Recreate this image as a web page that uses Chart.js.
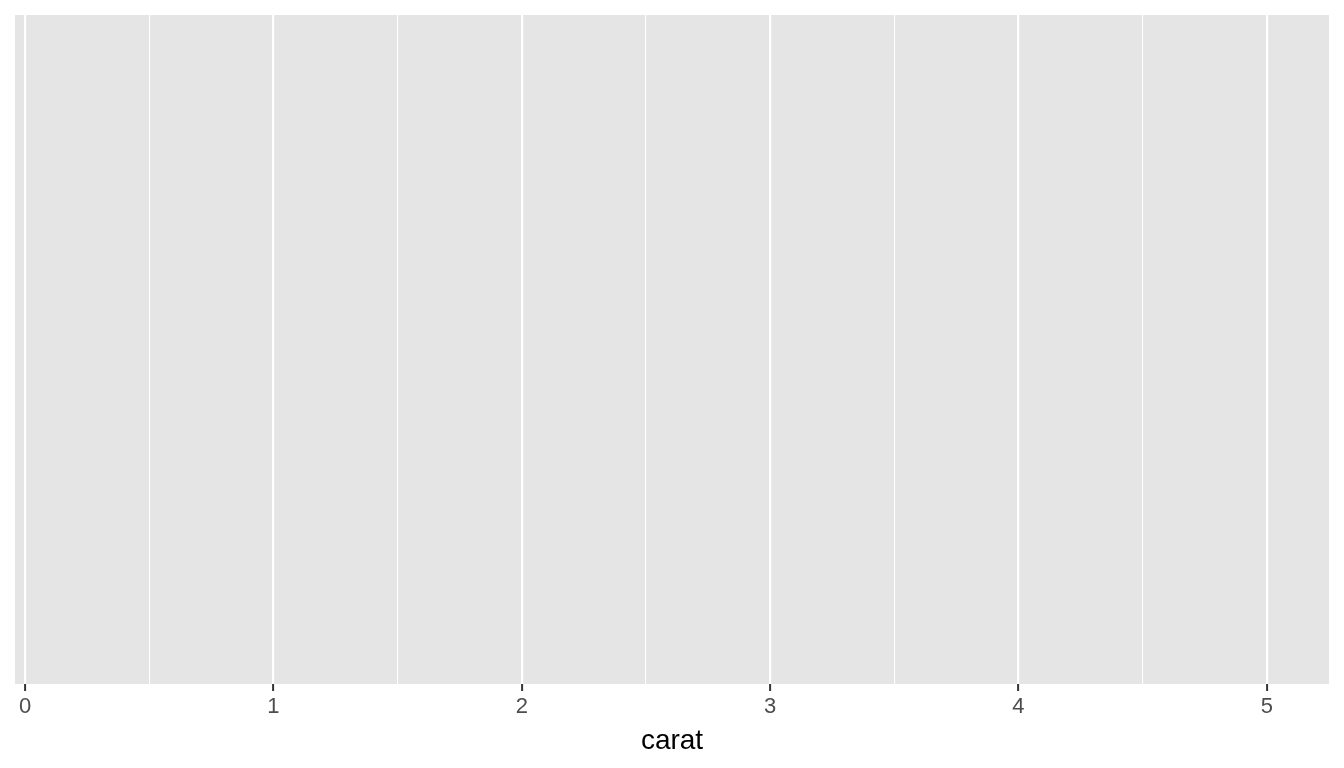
<!DOCTYPE html>
<html>
<head>
<meta charset="utf-8">
<script src="https://cdn.jsdelivr.net/npm/chart.js@4"></script>
<style>
  html, body { margin: 0; padding: 0; background: #fff; }
  #wrap { width: 1344px; height: 768px; }
</style>
</head>
<body>
<div id="wrap"><canvas id="chart" width="1344" height="768"></canvas></div>
<script>
// empty ggplot panel: only the carat axis is drawn
const xLimits = [-0.0405, 5.2505];
const xBreaks = [0, 1, 2, 3, 4, 5];
const xMinorBreaks = [0.5, 1.5, 2.5, 3.5, 4.5];
const points = [];

const allBreaks = xBreaks.concat(xMinorBreaks).sort((a, b) => a - b);
const isMajor = v => xBreaks.includes(v);

const panelBg = {
  id: 'panelBg',
  beforeDraw(chart) {
    const a = chart.chartArea;
    const ctx = chart.ctx;
    ctx.save();
    ctx.fillStyle = '#E5E5E5';
    ctx.fillRect(a.left, a.top, a.right - a.left, a.bottom - a.top);
    ctx.restore();
  }
};

const ctx = document.getElementById('chart').getContext('2d');
new Chart(ctx, {
  type: 'scatter',
  data: { datasets: [{ data: points }] },
  options: {
    responsive: false,
    animation: false,
    devicePixelRatio: 1,
    layout: { padding: { left: 15, right: 15, top: 15, bottom: 1 } },
    plugins: { legend: { display: false }, tooltip: { enabled: false } },
    scales: {
      x: {
        type: 'linear',
        min: xLimits[0],
        max: xLimits[1],
        afterBuildTicks: axis => { axis.ticks = allBreaks.map(v => ({ value: v })); },
        border: { display: false },
        grid: {
          color: '#FFFFFF',
          lineWidth: c => isMajor(c.tick.value) ? 2.2 : 1.1,
          tickLength: 7,
          tickWidth: 2,
          tickColor: c => isMajor(c.tick.value) ? '#333333' : 'rgba(0,0,0,0)'
        },
        ticks: {
          autoSkip: false,
          maxRotation: 0,
          padding: 3,
          color: '#4D4D4D',
          font: { family: 'Liberation Sans', size: 22 },
          callback: v => isMajor(v) ? String(v) : ''
        },
        title: {
          display: true,
          text: 'carat',
          color: '#000000',
          font: { family: 'Liberation Sans', size: 28 },
          padding: { top: 1, bottom: 9 }
        }
      },
      y: { display: false, min: 0, max: 1 }
    }
  },
  plugins: [panelBg]
});
</script>
</body>
</html>
